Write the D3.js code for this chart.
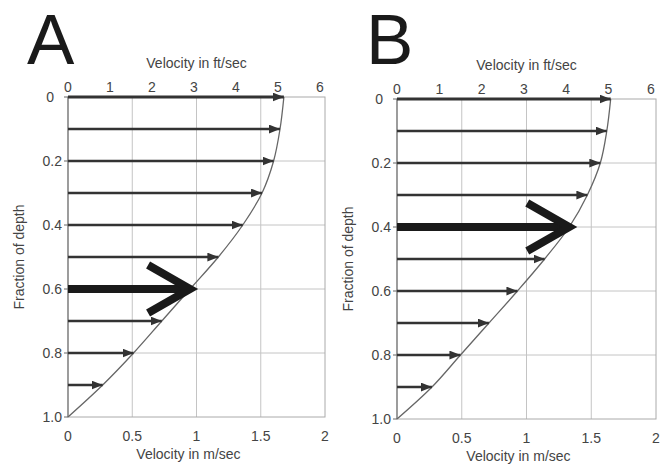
<!DOCTYPE html>
<html>
<head>
<meta charset="utf-8">
<script src="https://cdn.jsdelivr.net/npm/d3@7"></script>
<style>
  body { margin: 0; background: #fff; }
  svg text { font-family: "Liberation Sans", Arial, Helvetica, sans-serif; fill: #444; }
</style>
</head>
<body>
<div id="chart"></div>
<script>
// arrow depths (fraction of depth) and velocities (m/sec)
const depths = [0, 0.1, 0.2, 0.3, 0.4, 0.5, 0.6, 0.7, 0.8, 0.9];
const velA = [1.68, 1.65, 1.60, 1.51, 1.36, 1.17, 0.95, 0.73, 0.51, 0.27];
const velB = [1.65, 1.62, 1.57, 1.47, 1.33, 1.14, 0.93, 0.71, 0.49, 0.27];
const boldA = 0.6;
const boldB = 0.4;

const depthTicks = [0, 0.2, 0.4, 0.6, 0.8, 1.0];
const mTicks = [0, 0.5, 1, 1.5, 2];
const ftTicks = [0, 1, 2, 3, 4, 5, 6];

const svg = d3.select('#chart').append('svg')
  .attr('width', 666)
  .attr('height', 468);

const defs = svg.append('defs');
defs.append('marker')
  .attr('id', 'head')
  .attr('viewBox', '0 0 10 8')
  .attr('refX', 10).attr('refY', 4)
  .attr('markerUnits', 'userSpaceOnUse')
  .attr('markerWidth', 11).attr('markerHeight', 9)
  .attr('orient', 'auto')
  .append('path')
  .attr('d', 'M0,0L10,4L0,8Z')
  .attr('fill', '#333');

function drawPanel(cfg, vel, bold) {
  const x = d3.scaleLinear().domain([0, 2]).range([cfg.left, cfg.right]);
  const y = d3.scaleLinear().domain([0, 1]).range([cfg.top, cfg.bottom]);
  // the ft/sec labels of the figure are spread a bit wider than a true conversion
  const xft = d3.scaleLinear().domain([0, 6]).range([cfg.left, cfg.left + (cfg.right - cfg.left) * 0.98]);

  const g = svg.append('g');

  // grid
  g.selectAll('.vgrid').data(mTicks.slice(1, -1)).enter().append('line')
    .attr('x1', d => x(d)).attr('x2', d => x(d))
    .attr('y1', y(0)).attr('y2', y(1))
    .attr('stroke', '#c4c4c4').attr('stroke-width', 1);
  g.selectAll('.hgrid').data(depthTicks.slice(1, -1)).enter().append('line')
    .attr('x1', x(0)).attr('x2', x(2))
    .attr('y1', d => y(d)).attr('y2', d => y(d))
    .attr('stroke', '#c4c4c4').attr('stroke-width', 1);

  // frame
  g.append('rect')
    .attr('x', x(0)).attr('y', y(0))
    .attr('width', x(2) - x(0)).attr('height', y(1) - y(0))
    .attr('fill', 'none').attr('stroke', '#aaa').attr('stroke-width', 1);
  g.append('line')
    .attr('x1', x(0)).attr('x2', x(0)).attr('y1', y(0)).attr('y2', y(1))
    .attr('stroke', '#777').attr('stroke-width', 1.2);

  // velocity profile
  const profile = depths.map((d, i) => [vel[i], d]).concat([[0, 1]]);
  g.append('path')
    .datum(profile)
    .attr('d', d3.line().x(d => x(d[0])).y(d => y(d[1])).curve(d3.curveCatmullRom))
    .attr('fill', 'none').attr('stroke', '#666').attr('stroke-width', 1.3);

  // arrows
  depths.forEach((d, i) => {
    if (d === bold) {
      const tx = x(vel[i]), ty = y(d);
      g.append('line')
        .attr('x1', x(0)).attr('x2', tx - 4).attr('y1', ty).attr('y2', ty)
        .attr('stroke', '#1a1a1a').attr('stroke-width', 8);
      g.append('path')
        .attr('d', `M${tx - 42},${ty - 24}L${tx},${ty}L${tx - 42},${ty + 24}`)
        .attr('fill', 'none').attr('stroke', '#1a1a1a')
        .attr('stroke-width', 8).attr('stroke-linejoin', 'miter');
    } else {
      g.append('line')
        .attr('x1', x(0)).attr('x2', x(vel[i])).attr('y1', y(d)).attr('y2', y(d))
        .attr('stroke', '#333').attr('stroke-width', d === 0 ? 3.2 : 2.6)
        .attr('marker-end', 'url(#head)');
    }
  });

  // left axis
  g.selectAll('.ltick').data(depthTicks).enter().append('line')
    .attr('x1', x(0) - 4).attr('x2', x(0))
    .attr('y1', d => y(d)).attr('y2', d => y(d))
    .attr('stroke', '#666');
  g.selectAll('.llab').data(depthTicks).enter().append('text')
    .attr('x', d => d === 0 ? x(0) - 14 : x(0) - 6).attr('y', d => y(d))
    .attr('dy', '0.36em')
    .attr('text-anchor', 'end')
    .style('font-size', '14px')
    .text(d => d === 0 ? '0' : d.toFixed(1));
  g.append('text')
    .attr('transform', `translate(${cfg.left - 49},${(cfg.top + cfg.bottom) / 2}) rotate(-90)`)
    .attr('dy', '0.35em')
    .attr('text-anchor', 'middle')
    .style('font-size', '14px')
    .text('Fraction of depth');

  // bottom axis (m/sec)
  g.selectAll('.blab').data(mTicks).enter().append('text')
    .attr('x', d => x(d)).attr('y', cfg.bottom + 24)
    .attr('text-anchor', 'middle')
    .style('font-size', '14px')
    .text(d => d);
  g.append('text')
    .attr('x', (cfg.left + cfg.right) / 2 - 8).attr('y', cfg.bottom + 42)
    .attr('text-anchor', 'middle')
    .style('font-size', '14px')
    .text('Velocity in m/sec');

  // top axis (ft/sec)
  g.selectAll('.tlab').data(ftTicks).enter().append('text')
    .attr('x', d => xft(d)).attr('y', cfg.top - 5)
    .attr('text-anchor', 'middle')
    .style('font-size', '14px')
    .text(d => d);
  g.append('text')
    .attr('x', (cfg.left + cfg.right) / 2).attr('y', cfg.top - 29)
    .attr('text-anchor', 'middle')
    .style('font-size', '14px')
    .text('Velocity in ft/sec');

  // panel letter
  svg.append('text')
    .attr('x', cfg.letterX).attr('y', 64)
    .style('font-size', '71px')
    .style('fill', '#1a1a1a')
    .text(cfg.letter);
}

drawPanel({left: 68, right: 325, top: 97, bottom: 417, letter: 'A', letterX: 27}, velA, boldA);
drawPanel({left: 397, right: 656, top: 99, bottom: 419, letter: 'B', letterX: 366}, velB, boldB);
</script>
</body>
</html>
